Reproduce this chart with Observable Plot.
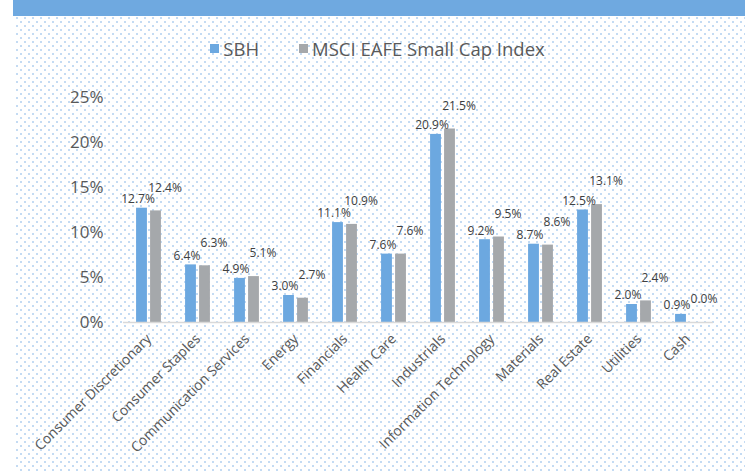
<!DOCTYPE html>
<html>
<head>
<meta charset="utf-8">
<script src="https://cdn.jsdelivr.net/npm/d3@7"></script>
<script src="https://cdn.jsdelivr.net/npm/@observablehq/plot@0.6"></script>
<style>
  html, body { margin: 0; padding: 0; background: #fff; }
  #wrap { position: relative; width: 745px; height: 471px; overflow: hidden; font-family: "Open Sans", sans-serif; }
  #bg { position: absolute; left: 15px; top: 16px; right: 0; bottom: 0;
    background-image: url("data:image/svg+xml,%3Csvg xmlns='http://www.w3.org/2000/svg' width='8' height='8'%3E%3Crect x='0' y='0' width='2' height='2' fill='%23C4DBF3'/%3E%3Crect x='4' y='4' width='2' height='2' fill='%23C4DBF3'/%3E%3C/svg%3E");
    background-position: 1px 1px; }
  #header { position: absolute; left: 13px; top: 0; right: 0; height: 16px; background: #6FA9E0; }
  #legend { position: absolute; left: 0; right: 0; top: 35px; height: 26px; display: flex; justify-content: center; align-items: center; font-size: 18.5px; color: #595959; padding-left: 10px; }
  .item { display: flex; align-items: center; }
  .sw { width: 9px; height: 9px; margin-right: 4px; }
  #chart { position: absolute; left: 0; top: 80px; }
</style>
</head>
<body>
<div id="wrap">
  <div id="bg"></div>
  <div id="header"></div>
  <div id="legend"></div>
  <div id="chart"></div>
</div>
<script>
const categories = ["Consumer Discretionary", "Consumer Staples", "Communication Services", "Energy", "Financials", "Health Care", "Industrials", "Information Technology", "Materials", "Real Estate", "Utilities", "Cash"];
const sbh = [12.7, 6.4, 4.9, 3.0, 11.1, 7.6, 20.9, 9.2, 8.7, 12.5, 2.0, 0.9];
const msci = [12.4, 6.3, 5.1, 2.7, 10.9, 7.6, 21.5, 9.5, 8.6, 13.1, 2.4, 0.0];
const seriesNames = ["SBH", "MSCI EAFE Small Cap Index"];
const yTicks = [0, 5, 10, 15, 20, 25];
const colors = ["#6CA8E0", "#A5A8AB"];

const data = categories.map((c, i) => ({cat: c, sbh: sbh[i], msci: msci[i]}));

// legend
const legend = document.getElementById("legend");
seriesNames.forEach((n, i) => {
  const it = document.createElement("div");
  it.className = "item";
  it.style.marginRight = i === 0 ? "40px" : "0";
  it.innerHTML = `<span class="sw" style="background:${colors[i]}"></span><span>${n}</span>`;
  legend.appendChild(it);
});

const W = 745, H = 391;
const mL = 123, mR = 32;
const bw = (W - mL - mR) / categories.length;
const half = bw / 2;

const chart = Plot.plot({
  width: W,
  height: H,
  marginLeft: mL,
  marginRight: mR,
  marginTop: 17,
  marginBottom: 149,
  style: {background: "transparent", fontFamily: "Open Sans, sans-serif", color: "#595959"},
  x: {domain: categories, padding: 0, label: null},
  y: {domain: [0, 25], label: null},
  marks: [
    Plot.axisX({tickSize: 0, tickRotate: -45, tickPadding: 14, fontSize: 14, label: null, fill: "#595959"}),
    Plot.axisY({ticks: yTicks, tickFormat: d => d + "%", tickSize: 0, tickPadding: 20, fontSize: 17, label: null, fill: "#595959"}),
    Plot.barY(data, {x: "cat", y: "sbh", fill: colors[0], insetLeft: half - 12.5, insetRight: half + 1.5}),
    Plot.barY(data, {x: "cat", y: "msci", fill: colors[1], insetLeft: half + 1.5, insetRight: half - 12.5}),
    Plot.ruleY([0], {stroke: "#D9D9D9", strokeWidth: 1.5}),
    Plot.text(data, {x: "cat", y: "sbh", text: d => d.sbh.toFixed(1) + "%", dx: -11, dy: -9, fontSize: 12, fill: "#404040"}),
    Plot.text(data, {x: "cat", y: "msci", text: d => d.msci.toFixed(1) + "%", dx: 16, dy: -23, fontSize: 12, fill: "#404040"})
  ]
});
document.getElementById("chart").appendChild(chart);
</script>
</body>
</html>
